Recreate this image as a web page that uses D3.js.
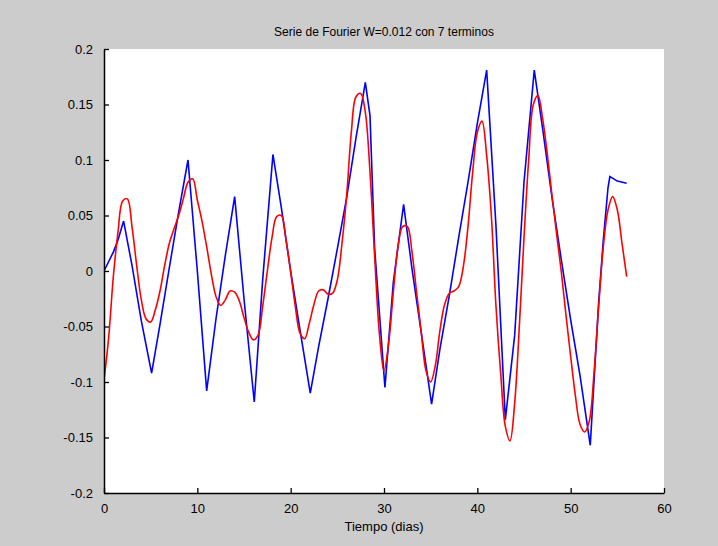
<!DOCTYPE html>
<html lang="en">
<head>
  <meta charset="UTF-8">
  <title>Serie de Fourier</title>
  <script src="https://d3js.org/d3.v7.min.js"></script>
  <style>
    body { margin: 0; background: #cccccc; }
    svg { display: block; font-family: "Liberation Sans", Arial, sans-serif; }
    .tick text { font-size: 13px; fill: #000; }
  </style>
</head>
<body>
<svg width="718" height="546"></svg>
<script>
// measured series (blue) and fourier fit (red)
const blueT = [0, 1, 1.5, 2.1, 3, 4, 5.1, 6, 7, 8, 9, 10, 11, 12, 13, 14, 15, 16.1, 17, 18.1,
  19, 20, 21, 22.1, 23, 24, 25, 26, 27, 28, 28.5, 29, 30.1, 31, 32.1, 33, 34, 35.1, 36, 37,
  38, 39, 40, 41, 42, 43, 44, 45, 46.1, 47, 48, 49, 50, 51, 52.1, 53, 53.5, 54, 54.2, 55, 56];
const blueV = [0, 0.017, 0.028, 0.045, 0.005, -0.045, -0.092, -0.048, 0.003, 0.053, 0.100, 0.0, -0.108, -0.043, 0.014, 0.067, -0.025, -0.118, -0.008, 0.105,
  0.057, 0.0, -0.053, -0.110, -0.068, -0.025, 0.02, 0.066, 0.12, 0.170, 0.14, 0.02, -0.105, -0.01, 0.060, 0.002, -0.056, -0.120, -0.07, -0.022,
  0.03, 0.08, 0.133, 0.181, 0.04, -0.134, -0.058, 0.08, 0.181, 0.128, 0.066, 0.01, -0.044, -0.094, -0.157, -0.028, 0.028, 0.075, 0.085, 0.081, 0.079];

const redT = d3.range(0, 56.5, 0.5);
const redV = [-0.098, -0.06, -0.005, 0.035, 0.063, 0.065, 0.040, 0.005, -0.026, -0.043,
  -0.046, -0.035, -0.018, 0.005, 0.025, 0.038, 0.050, 0.065, 0.080, 0.083,
  0.064, 0.045, 0.022, -0.003, -0.023, -0.031, -0.026, -0.018, -0.019, -0.027,
  -0.042, -0.055, -0.062, -0.058, -0.032, 0.000, 0.030, 0.049, 0.050, 0.028,
  -0.001, -0.032, -0.056, -0.061, -0.047, -0.030, -0.018, -0.017, -0.021, -0.020,
  -0.008, 0.025, 0.068, 0.125, 0.157, 0.160, 0.143, 0.089, 0.013, -0.056,
  -0.090, -0.065, -0.019, 0.022, 0.040, 0.040, 0.017, -0.020, -0.056, -0.090,
  -0.100, -0.085, -0.053, -0.030, -0.020, -0.018, -0.014, 0.004, 0.040, 0.089,
  0.125, 0.135, 0.104, 0.050, -0.032, -0.092, -0.140, -0.153, -0.119, -0.050,
  0.030, 0.100, 0.150, 0.158, 0.137, 0.105, 0.068, 0.033, -0.001, -0.040,
  -0.077, -0.112, -0.138, -0.145, -0.135, -0.092, -0.032, 0.022, 0.055, 0.067,
  0.055, 0.025, -0.005];

const xTicks = [0, 10, 20, 30, 40, 50, 60];
const yTicks = [-0.2, -0.15, -0.1, -0.05, 0, 0.05, 0.1, 0.15, 0.2];

const svg = d3.select("svg");
const mLeft = 104, mRight = 664, mTop = 49, mBottom = 493;

const x = d3.scaleLinear().domain([0, 60]).range([mLeft, mRight]);
const y = d3.scaleLinear().domain([-0.2, 0.2]).range([mBottom, mTop]);

svg.append("rect")
  .attr("x", mLeft).attr("y", mTop)
  .attr("width", mRight - mLeft).attr("height", mBottom - mTop)
  .attr("fill", "#fff");

svg.append("clipPath").attr("id", "clip")
  .append("rect").attr("x", mLeft).attr("y", mTop)
  .attr("width", mRight - mLeft).attr("height", mBottom - mTop);

const plot = svg.append("g").attr("clip-path", "url(#clip)");

const line = d3.line().x(d => x(d[0])).y(d => y(d[1]));

plot.append("path")
  .datum(blueT.map((t, i) => [t, blueV[i]]))
  .attr("fill", "none")
  .attr("stroke", "#0000ff")
  .attr("stroke-width", 1.6)
  .attr("d", line);

plot.append("path")
  .datum(redT.map((t, i) => [t, redV[i]]))
  .attr("fill", "none")
  .attr("stroke", "#ff0000")
  .attr("stroke-width", 1.6)
  .attr("d", line.curve(d3.curveCatmullRom));

const fmt = d => d === 0 ? "0" : String(d);

const xAxis = svg.append("g")
  .attr("transform", `translate(0,${mBottom})`)
  .call(d3.axisBottom(x).tickValues(xTicks).tickSizeInner(-5).tickSizeOuter(0).tickPadding(11).tickFormat(fmt));

const yAxis = svg.append("g")
  .attr("transform", `translate(${mLeft},0)`)
  .call(d3.axisLeft(y).tickValues(yTicks).tickSizeInner(-5).tickSizeOuter(0).tickPadding(11).tickFormat(fmt));

[xAxis, yAxis].forEach(a => {
  a.select(".domain").attr("stroke", "#000").attr("stroke-width", 1.5);
  a.selectAll(".tick line").attr("stroke", "#000").attr("stroke-width", 1.3);
  a.selectAll(".tick text").attr("font-family", null).attr("font-size", null);
});

svg.append("text")
  .attr("x", 384).attr("y", 36)
  .attr("text-anchor", "middle")
  .attr("font-size", 12)
  .text("Serie de Fourier W=0.012 con 7 terminos");

svg.append("text")
  .attr("x", 384).attr("y", 531)
  .attr("text-anchor", "middle")
  .attr("font-size", 13)
  .text("Tiempo (dias)");
</script>
</body>
</html>
